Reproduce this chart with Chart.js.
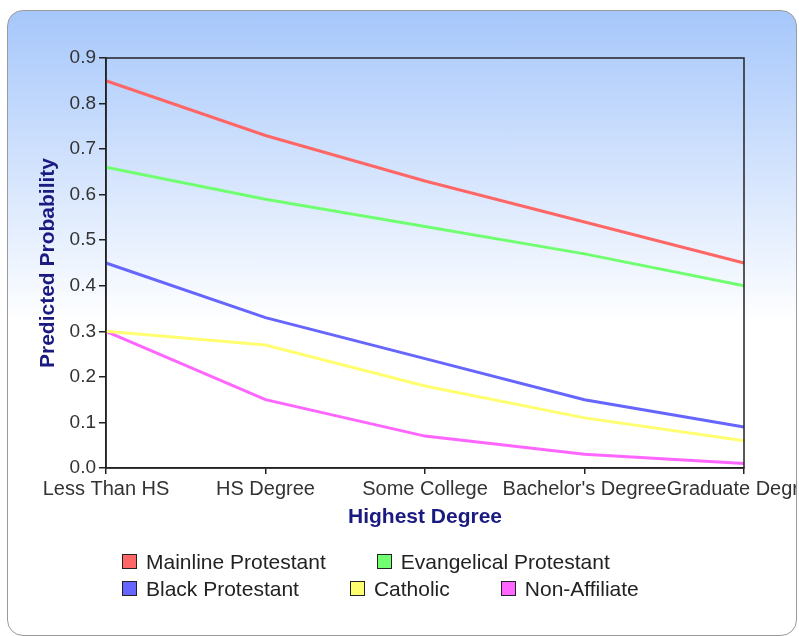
<!DOCTYPE html>
<html>
<head>
<meta charset="utf-8">
<title>Predicted Probability by Highest Degree</title>
<script src="https://cdn.jsdelivr.net/npm/chart.js@4.4.1/dist/chart.umd.min.js"></script>
<style>
  body { margin: 0; width: 799px; height: 636px; overflow: hidden; position: relative; background: #fff;
         font-family: "Liberation Sans", Arial, sans-serif; }
  #panel { position: absolute; left: 7px; top: 10px; width: 788px; height: 624px;
           border: 1.5px solid #9a9a9a; border-radius: 16px; overflow: hidden;
           background: linear-gradient(to bottom, #a6c7fb 0%, #ffffff 50%, #ffffff 100%); }
  #wrap { position: absolute; left: -8.5px; top: -11.5px; width: 799px; height: 636px; }
  #legend { position: absolute; left: 122px; top: 552px; width: 560px; display: flex; flex-wrap: wrap;
            column-gap: 51px; row-gap: 8px; }
  .item { display: flex; align-items: center; font-size: 21px; line-height: 19px; color: #222; }
  .box { width: 13px; height: 13px; border: 1.5px solid #222; margin-right: 9px; }
</style>
</head>
<body>
<div id="panel">
  <div id="wrap"><canvas id="myChart" width="799" height="636"></canvas></div>
</div>
<div id="legend"></div>

<script>
// data
const categories = ["Less Than HS", "HS Degree", "Some College", "Bachelor's Degree", "Graduate Degree"];
const mainline    = [0.85, 0.73, 0.63, 0.54, 0.45];
const evangelical = [0.66, 0.59, 0.53, 0.47, 0.40];
const blackProt   = [0.45, 0.33, 0.24, 0.15, 0.09];
const catholic    = [0.30, 0.27, 0.18, 0.11, 0.06];
const nonAffil    = [0.30, 0.15, 0.07, 0.03, 0.01];

const seriesNames  = ["Mainline Protestant", "Evangelical Protestant", "Black Protestant", "Catholic", "Non-Affiliate"];
const seriesValues = [mainline, evangelical, blackProt, catholic, nonAffil];
const seriesColors = ["#ff6666", "#70ff70", "#6666ff", "#ffff70", "#ff66ff"];

const yMin = 0, yMax = 0.9, yStep = 0.1;

const tickColor = "#333";
const titleColor = "#1a1a80";
const axisColor = "#222";

// black frame round the plot area
const frame = {
  id: "frame",
  afterDatasetsDraw(chart) {
    const {ctx, chartArea: a} = chart;
    ctx.save();
    ctx.strokeStyle = axisColor;
    ctx.lineWidth = 1.5;
    ctx.strokeRect(a.left, a.top, a.right - a.left, a.bottom - a.top);
    ctx.restore();
  }
};

const datasets = seriesNames.map((name, i) => ({
  label: name,
  data: seriesValues[i],
  borderColor: seriesColors[i],
  backgroundColor: seriesColors[i],
  borderWidth: 3,
  pointRadius: 0,
  tension: 0,
  fill: false
}));

let myChart = new Chart("myChart", {
  type: "line",
  data: { labels: categories, datasets: datasets },
  plugins: [frame],
  options: {
    responsive: false,
    animation: false,
    layout: { padding: { left: 36, right: 55, top: 58, bottom: 102 } },
    plugins: { legend: { display: false }, tooltip: { enabled: false } },
    scales: {
      x: {
        type: "category",
        offset: false,
        grid: { drawOnChartArea: false, drawTicks: true, tickLength: 6, color: axisColor, lineWidth: 1.5 },
        border: { display: true, color: axisColor, width: 1.5 },
        ticks: { autoSkip: false, maxRotation: 0, minRotation: 0, padding: 3, color: tickColor,
                 font: { family: "Liberation Sans", size: 20 } },
        title: { display: true, text: "Highest Degree", color: titleColor, padding: { top: 3, bottom: 4 },
                 font: { family: "Liberation Sans", size: 21, weight: "bold" } },
        afterFit(scale) { scale.paddingRight = 0; scale.height = 66; }
      },
      y: {
        min: yMin, max: yMax,
        grid: { drawOnChartArea: false, drawTicks: true, tickLength: 7, color: axisColor, lineWidth: 1.5 },
        border: { display: true, color: axisColor, width: 1.5 },
        ticks: { stepSize: yStep, padding: 3, color: tickColor,
                 font: { family: "Liberation Sans", size: 19 },
                 callback: (v) => Number(v).toFixed(1) },
        title: { display: true, text: "Predicted Probability", color: titleColor, padding: { top: 0, bottom: 6 },
                 font: { family: "Liberation Sans", size: 21, weight: "bold" } },
        afterFit(scale) { scale.width = 70; }
      }
    }
  }
});

// legend built from the same series
const legend = document.getElementById("legend");
seriesNames.forEach((name, i) => {
  const item = document.createElement("div");
  item.className = "item";
  const box = document.createElement("span");
  box.className = "box";
  box.style.background = seriesColors[i];
  const txt = document.createElement("span");
  txt.textContent = name;
  item.appendChild(box);
  item.appendChild(txt);
  legend.appendChild(item);
});
</script>
</body>
</html>
